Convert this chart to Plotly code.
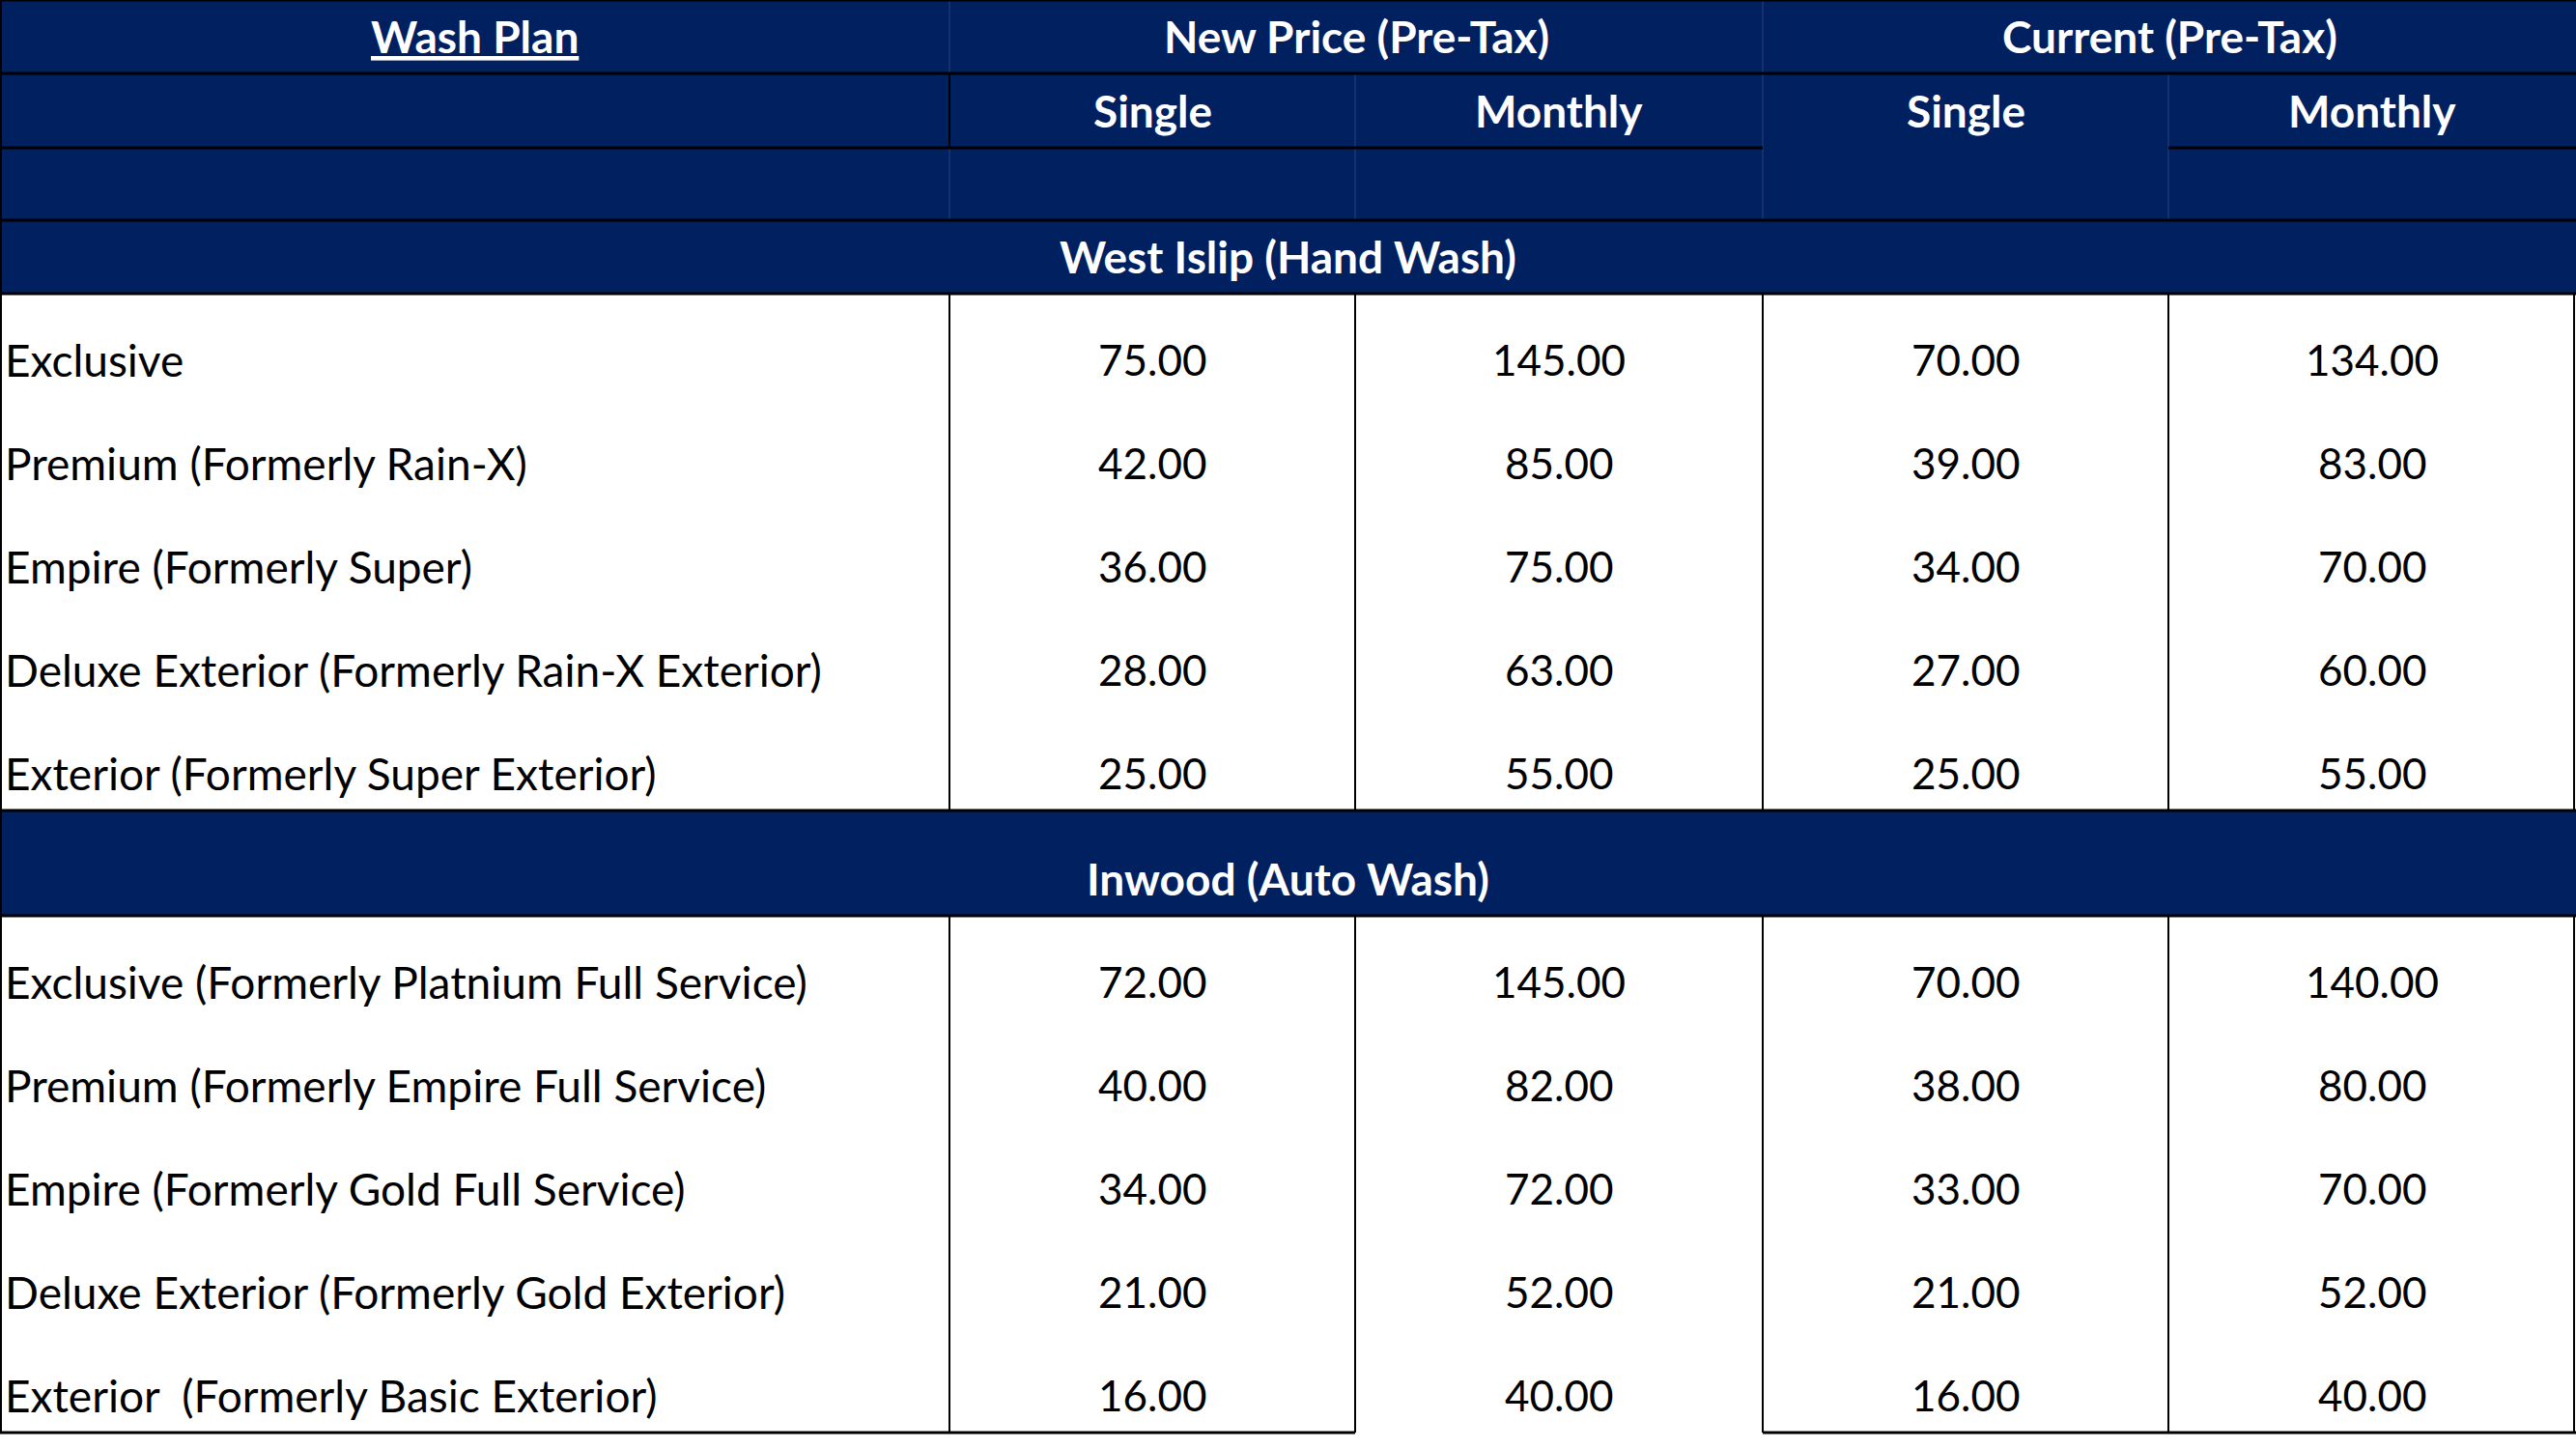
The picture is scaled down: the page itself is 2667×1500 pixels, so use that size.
import plotly.graph_objects as go

# ---------------- data ----------------
header_plan = "Wash Plan"
group_headers = ["New Price (Pre-Tax)", "Current (Pre-Tax)"]
sub_headers = ["Single", "Monthly", "Single", "Monthly"]

section_west = "West Islip (Hand Wash)"
plans_west = [
    "Exclusive",
    "Premium (Formerly Rain-X)",
    "Empire (Formerly Super)",
    "Deluxe Exterior (Formerly Rain-X Exterior)",
    "Exterior (Formerly Super Exterior)",
]
new_single_west = [75, 42, 36, 28, 25]
new_monthly_west = [145, 85, 75, 63, 55]
cur_single_west = [70, 39, 34, 27, 25]
cur_monthly_west = [134, 83, 70, 60, 55]

section_inwood = "Inwood (Auto Wash)"
plans_inwood = [
    "Exclusive (Formerly Platnium Full Service)",
    "Premium (Formerly Empire Full Service)",
    "Empire (Formerly Gold Full Service)",
    "Deluxe Exterior (Formerly Gold Exterior)",
    "Exterior \u00a0(Formerly Basic Exterior)",
]
new_single_in = [72, 40, 34, 21, 16]
new_monthly_in = [145, 82, 72, 52, 40]
cur_single_in = [70, 38, 33, 21, 16]
cur_monthly_in = [140, 80, 70, 52, 40]

# ---------------- layout constants ----------------
W, H = 2667, 1500
NAVY = "#012060"
FAINT = "#1d3670"
FONT = "Lato"
FS_LABEL = 46
FS_NUM = 44
FS_HEAD = 46
col_widths = [983, 420, 422, 420, 422]
row_heights = [76, 77, 75, 76] + [107] * 5 + [109] + [107] * 5
TEXT_UP = 39  # text centre above the row bottom (bottom aligned cells)

col_edges = [0]
for w in col_widths:
    col_edges.append(col_edges[-1] + w)
row_edges = [0]
for h in row_heights:
    row_edges.append(row_edges[-1] + h)

def col_center(i):
    return (col_edges[i] + col_edges[i + 1]) / 2

def text_y(r):
    return row_edges[r + 1] - TEXT_UP

fig = go.Figure()
fig.add_trace(go.Scatter(x=[0, W], y=[0, H], mode="markers",
                         marker=dict(opacity=0), hoverinfo="skip", showlegend=False))

shapes = []
annotations = []

def rect(x0, x1, y0, y1, color):
    shapes.append(dict(type="rect", xref="x", yref="y", x0=x0, x1=x1, y0=y0, y1=y1,
                       fillcolor=color, line=dict(width=0), layer="below"))

def hline(y, x0, x1, color="black", width=3):
    shapes.append(dict(type="line", xref="x", yref="y", x0=x0, x1=x1, y0=y, y1=y,
                       line=dict(color=color, width=width), layer="above"))

def vline(x, y0, y1, color="black", width=2):
    shapes.append(dict(type="line", xref="x", yref="y", x0=x, x1=x, y0=y0, y1=y1,
                       line=dict(color=color, width=width), layer="above"))

def text(x, y, s, color="black", bold=False, anchor="center", underline=False, size=FS_LABEL):
    font = dict(family=FONT, size=size, color=color, weight=700 if bold else 400)
    if underline:
        font["lineposition"] = "under"
    annotations.append(dict(x=x, y=y, xref="x", yref="y", text=s, showarrow=False,
                            xanchor=anchor, yanchor="middle", font=font))

# navy backgrounds: header rows 0-3 and the Inwood band (row 9)
rect(0, W, row_edges[0], row_edges[4], NAVY)
rect(0, W, row_edges[9], row_edges[10], NAVY)

# faint grid lines inside navy header
vline(col_edges[1], row_edges[0], row_edges[1], FAINT, 1.5)
vline(col_edges[3], row_edges[0], row_edges[1], FAINT, 1.5)
vline(col_edges[1], row_edges[2], row_edges[3], FAINT, 1.5)
for c in (2, 3, 4):
    vline(col_edges[c], row_edges[1], row_edges[3], FAINT, 1.5)

# black borders
for r in (0, 1, 3, 4, 9, 10):
    hline(row_edges[r], 0, W)
hline(row_edges[2], 0, col_edges[3])
hline(row_edges[2], col_edges[4], W)
hline(row_edges[15], 0, col_edges[2])
hline(row_edges[15], col_edges[3], W)
vline(1, 0, row_edges[15], "black", 2)
vline(col_edges[1], row_edges[1], row_edges[2])
for c in (1, 2, 3, 4):
    vline(col_edges[c], row_edges[4], row_edges[9])
    vline(col_edges[c], row_edges[10], row_edges[15])
vline(W - 2, row_edges[4], row_edges[9])
vline(W - 2, row_edges[10], row_edges[15])

# header texts
text(col_center(0), text_y(0), header_plan, "white", True, underline=True, size=FS_HEAD)
text(col_edges[1] + (col_widths[1] + col_widths[2]) / 2, text_y(0), group_headers[0], "white", True, size=FS_HEAD)
text(col_edges[3] + (col_widths[3] + col_widths[4]) / 2, text_y(0), group_headers[1], "white", True, size=FS_HEAD)
for i, s in enumerate(sub_headers):
    text(col_center(i + 1), text_y(1), s, "white", True, size=FS_HEAD)
text(W / 2, text_y(3), section_west, "white", True, size=FS_HEAD)
text(W / 2, text_y(9), section_inwood, "white", True, size=FS_HEAD)

def body(start_row, plans, cols):
    for k, plan in enumerate(plans):
        r = start_row + k
        text(3, text_y(r), plan, anchor="left", size=FS_LABEL)
        for c, vals in enumerate(cols):
            text(col_center(c + 1), text_y(r), f"{vals[k]:.2f}", size=FS_NUM)

body(4, plans_west, [new_single_west, new_monthly_west, cur_single_west, cur_monthly_west])
body(10, plans_inwood, [new_single_in, new_monthly_in, cur_single_in, cur_monthly_in])

fig.update_layout(
    width=W, height=H,
    margin=dict(l=0, r=0, t=0, b=0),
    paper_bgcolor="white", plot_bgcolor="white",
    xaxis=dict(range=[0, W], visible=False, fixedrange=True),
    yaxis=dict(range=[H, 0], visible=False, fixedrange=True),
    shapes=shapes, annotations=annotations,
    showlegend=False,
)
fig.write_html(
    "out.html",
    config={"displayModeBar": False},
    post_script="document.body.style.margin='0';document.body.style.overflow='hidden';",
)
